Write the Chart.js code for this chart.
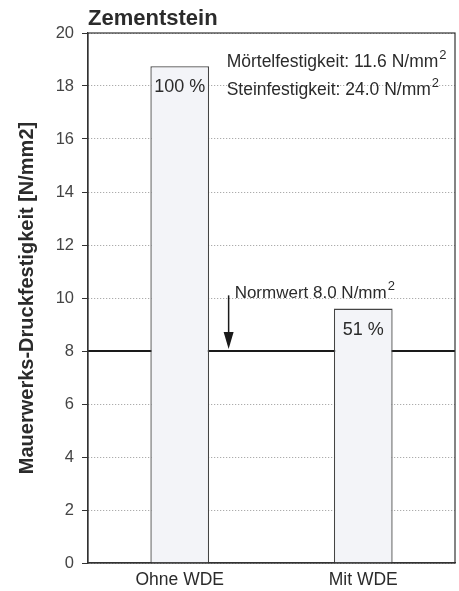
<!DOCTYPE html>
<html lang="de">
<head>
    <meta charset="UTF-8">
    <title>Zementstein</title>
    <script src="https://cdn.jsdelivr.net/npm/chart.js"></script>
    <style>
        body { margin: 0; background: #fff; }
        #wrap { width: 459px; height: 591px; }
    </style>
</head>
<body>
    <div id="wrap"><canvas id="chart" width="459" height="591"></canvas></div>
    <script>
        const categories = ['Ohne WDE', 'Mit WDE'];
        const strengths = [18.75, 9.6];
        const percentLabels = ['100 %', '51 %'];
        const normValue = 8.0;
        const yTicks = [0, 2, 4, 6, 8, 10, 12, 14, 16, 18, 20];

        const FONT = '"Liberation Sans", Arial, sans-serif';
        const ink = '#2b2b2b';

        // superscript helper: draws "base" then a small "2"
        function drawSup(ctx, base, x, y, size) {
            ctx.font = size + 'px ' + FONT;
            ctx.fillText(base, x, y);
            const w = ctx.measureText(base).width;
            ctx.font = Math.round(size * 0.75) + 'px ' + FONT;
            ctx.fillText('2', x + w + 1, y - size * 0.5);
        }

        const extras = {
            id: 'extras',
            beforeDatasetsDraw(chart) {
                const { ctx, chartArea: a, scales: { y } } = chart;
                // Normwert line
                const ny = y.getPixelForValue(normValue);
                ctx.save();
                ctx.strokeStyle = '#1a1a1a';
                ctx.lineWidth = 2;
                ctx.beginPath();
                ctx.moveTo(a.left, ny);
                ctx.lineTo(a.right, ny);
                ctx.stroke();
                ctx.restore();
            },
            afterDraw(chart) {
                const { ctx, chartArea: a, scales: { x, y } } = chart;
                ctx.save();
                // frame
                ctx.setLineDash([]);
                ctx.strokeStyle = '#333';
                ctx.lineWidth = 1.2;
                ctx.strokeRect(a.left, a.top, a.right - a.left, a.bottom - a.top);

                // title
                ctx.fillStyle = ink;
                ctx.font = 'bold 22px ' + FONT;
                ctx.textBaseline = 'alphabetic';
                ctx.textAlign = 'left';
                ctx.fillText('Zementstein', a.left, a.top - 8);

                // percentage labels inside bars
                ctx.font = '18px ' + FONT;
                ctx.textAlign = 'center';
                percentLabels.forEach((t, i) => {
                    ctx.fillText(t, x.getPixelForValue(i), y.getPixelForValue(strengths[i]) + 26);
                });

                // info text
                ctx.textAlign = 'left';
                const ix = x.getPixelForValue(0.25) + 1;
                drawSup(ctx, 'Mörtelfestigkeit: 11.6 N/mm', ix, y.getPixelForValue(18.7), 17.5);
                drawSup(ctx, 'Steinfestigkeit: 24.0 N/mm', ix, y.getPixelForValue(17.65), 17.5);
                drawSup(ctx, 'Normwert 8.0 N/mm', ix + 8, y.getPixelForValue(10.0), 17);

                // arrow down to the norm line
                const ax = ix + 2;
                const top = y.getPixelForValue(10.1);
                const tip = y.getPixelForValue(normValue) - 2;
                ctx.strokeStyle = '#1a1a1a';
                ctx.fillStyle = '#1a1a1a';
                ctx.lineWidth = 1.5;
                ctx.beginPath();
                ctx.moveTo(ax, top);
                ctx.lineTo(ax, tip - 14);
                ctx.stroke();
                ctx.beginPath();
                ctx.moveTo(ax - 5, tip - 17);
                ctx.lineTo(ax + 5, tip - 17);
                ctx.lineTo(ax, tip);
                ctx.closePath();
                ctx.fill();
                ctx.restore();
            }
        };

        new Chart(document.getElementById('chart'), {
            type: 'bar',
            data: {
                labels: categories,
                datasets: [{
                    data: strengths,
                    backgroundColor: '#f3f4f8',
                    borderColor: '#444',
                    borderWidth: 1.3,
                    categoryPercentage: 1,
                    barPercentage: 0.32
                }]
            },
            options: {
                responsive: false,
                animation: false,
                layout: { padding: { top: 33, right: 4, left: 0, bottom: 0 } },
                plugins: {
                    legend: { display: false },
                    tooltip: { enabled: false }
                },
                scales: {
                    x: {
                        grid: { display: false, drawTicks: false },
                        border: { color: '#333', width: 1.2 },
                        ticks: { color: ink, font: { family: FONT, size: 17.5 }, padding: 7 },
                        afterFit(s) { s.height = 28; }
                    },
                    y: {
                        min: 0,
                        max: 20,
                        afterBuildTicks(s) { s.ticks = yTicks.map(v => ({ value: v })); },
                        grid: {
                            color: '#999',
                            tickBorderDash: [],
                            tickColor: '#333',
                            tickLength: 6
                        },
                        border: { color: '#333', width: 1.2, dash: [1, 2] },
                        ticks: { color: '#444', font: { family: FONT, size: 16.5 }, padding: 8 },
                        title: {
                            display: true,
                            text: 'Mauerwerks-Druckfestigkeit [N/mm2]',
                            color: ink,
                            font: { family: FONT, size: 20, weight: 'bold' },
                            padding: { top: 15, bottom: 0 }
                        },
                        afterFit(s) { s.width = 88; }
                    }
                }
            },
            plugins: [extras]
        });
    </script>
</body>
</html>
